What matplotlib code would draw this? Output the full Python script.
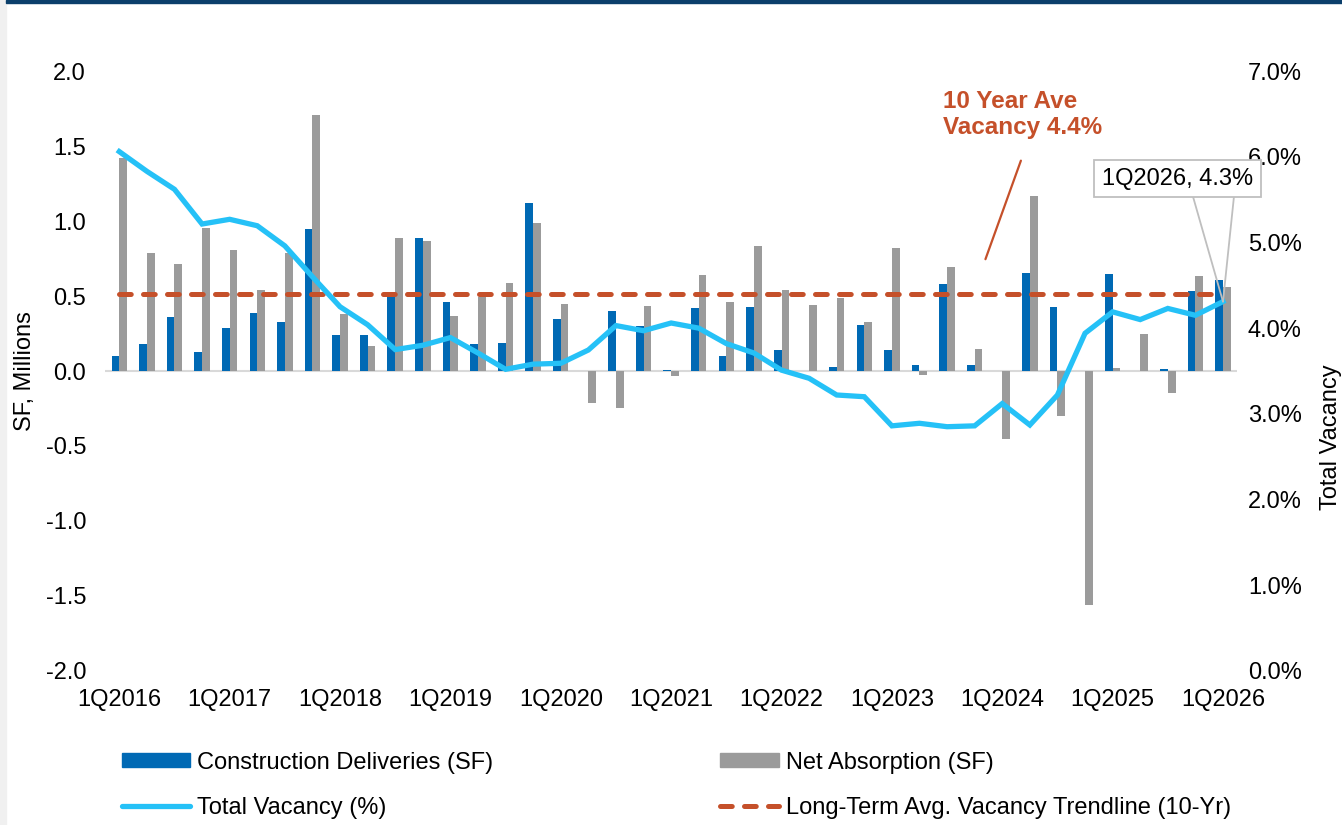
import matplotlib
matplotlib.use("Agg")
import matplotlib.pyplot as plt
import numpy as np
from matplotlib.lines import Line2D
from matplotlib.patches import Patch, Rectangle

plt.rcParams["font.family"] = ["Liberation Sans", "DejaVu Sans"]
plt.rcParams["axes.unicode_minus"] = False

# 1Q2016 .. 1Q2026
quarters = [f"{q}Q{y}" for y in range(2016, 2027) for q in range(1, 5)][:41]

deliveries = [0.10, 0.18, 0.36, 0.13, 0.285, 0.39, 0.33, 0.95, 0.24, 0.24,
              0.50, 0.885, 0.46, 0.18, 0.19, 1.12, 0.35, 0.0, 0.40, 0.30,
              0.01, 0.42, 0.10, 0.43, 0.14, 0.0, 0.03, 0.31, 0.14, 0.04,
              0.58, 0.04, 0.0, 0.655, 0.43, 0.0, 0.65, 0.0, 0.016, 0.535,
              0.61]
absorption = [1.42, 0.79, 0.715, 0.955, 0.805, 0.54, 0.785, 1.705, 0.38, 0.167,
              0.885, 0.867, 0.367, 0.496, 0.59, 0.989, 0.447, -0.211, -0.249, 0.431,
              -0.033, 0.642, 0.458, 0.833, 0.54, 0.442, 0.484, 0.327, 0.82, -0.029,
              0.693, 0.145, -0.455, 1.169, -0.30, -1.562, 0.02, 0.247, -0.149, 0.631,
              0.56]
vacancy = [6.06, 5.83, 5.62, 5.215, 5.27, 5.195, 4.96, 4.60, 4.25, 4.04,
           3.75, 3.80, 3.89, 3.71, 3.52, 3.58, 3.59, 3.745, 4.03, 3.97,
           4.06, 4.00, 3.82, 3.71, 3.51, 3.415, 3.22, 3.20, 2.86, 2.89,
           2.85, 2.86, 3.12, 2.87, 3.22, 3.94, 4.19, 4.10, 4.23, 4.15,
           4.31]
avg_vacancy = 4.4

BLUE = "#0069B4"
GREY = "#9B9B9B"
CYAN = "#25C1F7"
ORANGE = "#C5502A"
FS = 17

x = np.arange(len(quarters))

fig = plt.figure(figsize=(13.42, 8.25), dpi=100)
fig.add_artist(Rectangle((0, 0), 6 / 1342, 1, transform=fig.transFigure,
                         color="#F0F0F0", zorder=0))
fig.add_artist(Rectangle((6 / 1342, 1 - 3 / 825), 1, 3 / 825,
                         transform=fig.transFigure, color="#0B3F6B", zorder=0))

ax = fig.add_axes([0.0786, 0.1867, 0.8430, 0.7272])
ax2 = ax.twinx()

w = 0.28
ax.bar(x - w / 2, deliveries, w, color=BLUE, zorder=2)
ax.bar(x + w / 2, absorption, w, color=GREY, zorder=2)
ax.axhline(0, color="#D9D9D9", lw=1.5, zorder=1)

ax2.plot(x, [avg_vacancy] * len(x), color=ORANGE, lw=3.6,
         dashes=(2.35, 2.45), dash_capstyle="round", zorder=3)
ax2.plot(x, vacancy, color=CYAN, lw=3.8, solid_joinstyle="miter", zorder=4)

ax.set_xlim(-0.5, len(x) - 0.5)
ax.set_ylim(-2, 2)
ax2.set_ylim(0, 7)
ax.set_yticks(np.arange(-2, 2.01, 0.5))
ax.set_yticklabels([f"{v:.1f}" for v in np.arange(-2, 2.01, 0.5)])
ax2.set_yticks(np.arange(0, 7.01, 1))
ax2.set_yticklabels([f"{v:.1f}%" for v in np.arange(0, 7.01, 1)])
ax.set_xticks(x[::4])
ax.set_xticklabels(quarters[::4])

for a in (ax, ax2):
    for s in a.spines.values():
        s.set_visible(False)
ax.tick_params(axis="both", length=0, labelsize=FS)
ax.tick_params(axis="y", pad=14)
ax.tick_params(axis="x", pad=13)
ax2.tick_params(axis="y", length=0, labelsize=FS, pad=8)

ax.set_ylabel("SF, Millions", fontsize=FS)
ax.yaxis.set_label_coords(-0.0614, 0.5)
ax2.set_ylabel("Total Vacancy", fontsize=FS)
ax2.yaxis.set_label_coords(1.0735, 0.39)

# 10-year average note
ax2.text(0.740, 0.928, "10 Year Ave\nVacancy 4.4%", transform=ax2.transAxes,
         ha="left", va="center", fontsize=17.5, fontweight="bold", color=ORANGE,
         linespacing=1.15)
ax2.annotate("", xy=(0.777, 0.682), xytext=(0.810, 0.855),
             xycoords="axes fraction", textcoords="axes fraction",
             arrowprops=dict(arrowstyle="-", color=ORANGE, lw=1.6))

# last-point callout
last = len(x) - 1
for off in ((-21.6, 75.6), (7.9, 75.6)):
    ax2.annotate("", xy=(last, vacancy[-1]), xytext=off, textcoords="offset points",
                 arrowprops=dict(arrowstyle="-", color="#BFBFBF", lw=1.3,
                                 shrinkA=0, shrinkB=0), zorder=6)
ax2.annotate(f"{quarters[-1]}, {vacancy[-1]:.1f}%", xy=(last, vacancy[-1]),
             xytext=(-33, 88.5), textcoords="offset points", ha="center",
             va="center", fontsize=FS, zorder=7, annotation_clip=False,
             bbox=dict(boxstyle="square,pad=0.33", fc="white", ec="#BFBFBF", lw=1.3))

leg_kw = dict(frameon=False, fontsize=FS, loc="upper left", borderpad=0,
              borderaxespad=0, handletextpad=0.3, labelspacing=1.0,
              handleheight=0.55)
fig.legend([Patch(color=BLUE), Line2D([], [], color=CYAN, lw=3.8, solid_capstyle="round")],
           ["Construction Deliveries (SF)", "Total Vacancy (%)"],
           bbox_to_anchor=(0.0909, 0.089), handlelength=2.88, **leg_kw)
fig.legend([Patch(color=GREY),
            Line2D([], [], color=ORANGE, lw=3.6, dashes=(2.35, 2.45),
                   dash_capstyle="round")],
           ["Net Absorption (SF)", "Long-Term Avg. Vacancy Trendline (10-Yr)"],
           bbox_to_anchor=(0.5365, 0.089), handlelength=2.5, **leg_kw)

fig.savefig("out.png", dpi=100)
